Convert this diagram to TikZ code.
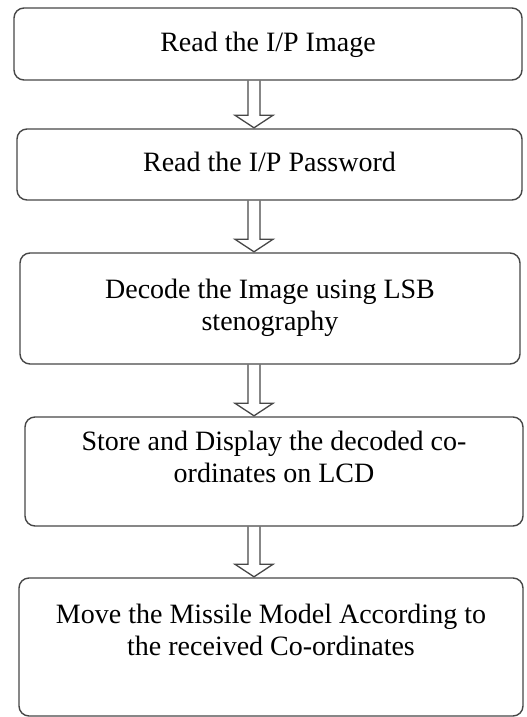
\documentclass[tikz,border=0pt]{standalone}
\usepackage{fontspec}
\setmainfont{Liberation Serif}
\usetikzlibrary{calc,positioning}

% hollow block arrow from the bottom of one box to the top of the next
\newcommand{\hollowdown}[2]{%
  \draw[hollow] ($(ax |- #1.south)+(-6,0)$) -- ($(ax |- #2.north)+(-6,13)$)
    -- ($(ax |- #2.north)+(-19,13)$) -- ($(ax |- #2.north)+(0,0.5)$)
    -- ($(ax |- #2.north)+(19,13)$) -- ($(ax |- #2.north)+(6,13)$)
    -- ($(ax |- #1.south)+(6,0)$);}

\begin{document}
\begin{tikzpicture}[x=1pt, y=1pt,
   stepbox/.style={draw=black!72, line width=1.4pt, rounded corners=10pt, inner sep=0pt},
   steptext/.style={anchor=north, inner sep=0pt, align=center,
     font=\fontsize{28}{32}\selectfont},
   hollow/.style={draw=black!72, line width=1.3pt, line join=miter}
   ]
   \useasboundingbox (0,0) rectangle (527,-717);
   \coordinate (ax) at (254,0);

   \path (268,-44) node[stepbox, minimum width=508, minimum height=72] (b1) {}
   (269.5,-164.5) node[stepbox, minimum width=505, minimum height=71] (b2) {};
   \path (270,-308.5) node[stepbox, minimum width=500, minimum height=111] (b3) {}
   (274,-471.5) node[stepbox, minimum width=498, minimum height=109] (b4) {}
   (271,-647) node[stepbox, minimum width=504, minimum height=138] (b5) {};

   \node[steptext] (t1) at ($(b1.north)+(0,-24.5)$) {Read the I/P Image};
   \node[steptext] (t2) at ($(b2.north)+(0,-23.5)$) {Read the I/P Password};
   \node[steptext] (t3) at ($(b3.north)+(0,-26.5)$) {Decode the Image using LSB\\stenography};
   \node[steptext] (t4) at ($(b4.north)+(0,-14.5)$) {Store and Display the decoded co-\\ordinates on LCD};
   \node[steptext] (t5) at ($(b5.north)+(0,-26.5)$) {Move the Missile Model According to\\the received Co-ordinates};

   \hollowdown{b1}{b2}
   \hollowdown{b2}{b3}
   \hollowdown{b3}{b4}
   \hollowdown{b4}{b5}

\end{tikzpicture}
\end{document}
